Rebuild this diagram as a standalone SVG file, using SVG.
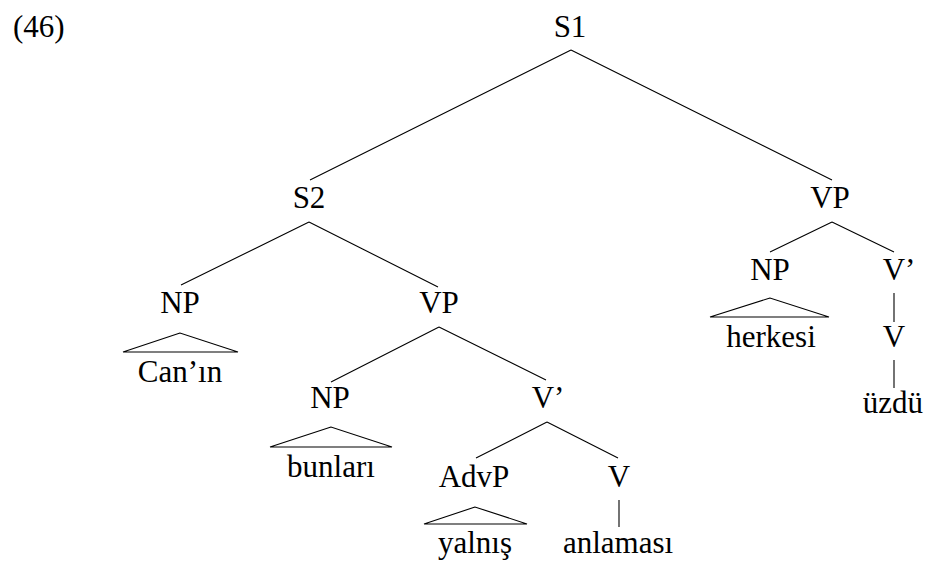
<svg xmlns="http://www.w3.org/2000/svg" width="930" height="563" viewBox="0 0 930 563">
  <style>
    text { font-family: "Liberation Serif", "DejaVu Serif", serif; font-size: 31px; fill: #000; text-anchor: middle; }
    .edge { stroke: #000; stroke-width: 1.1; fill: none; }
    .tri { stroke: #000; stroke-width: 1.1; fill: none; stroke-linejoin: miter; }
  </style>
  <rect width="930" height="563" fill="#fff"/>
  <text x="13" y="37" style="text-anchor:start">(46)</text>

  <!-- branches between nodes -->
  <g id="connectors">
    <path class="edge" d="M571,50 L310,180 M571,50 L832,180"/>
    <path class="edge" d="M309,222 L181,285 M309,222 L438,287"/>
    <path class="edge" d="M439,327 L331,382 M439,327 L546,380"/>
    <path class="edge" d="M547,422 L476,458 M547,422 L618,458"/>
    <path class="edge" d="M619,500 L619,527"/>
    <path class="edge" d="M832,222 L770,252 M832,222 L894,252"/>
    <path class="edge" d="M894,293 L894,322"/>
    <path class="edge" d="M894,360 L894,388"/>
  </g>

  <g id="S1"><text x="570" y="37">S1</text></g>
  <g id="S2"><text x="309" y="208">S2</text></g>
  <g id="VP1"><text x="830" y="208">VP</text></g>
  <g id="NP1">
    <text x="180" y="313">NP</text>
    <path class="tri" d="M180,333 L123,352 L238,352 Z"/>
    <text x="180" y="382">Can’ın</text>
  </g>
  <g id="VP2"><text x="439" y="313">VP</text></g>
  <g id="NP2">
    <text x="330" y="408">NP</text>
    <path class="tri" d="M331,427 L270,447 L392,447 Z"/>
    <text x="331" y="477">bunları</text>
  </g>
  <g id="Vbar1"><text x="548" y="408">V’</text></g>
  <g id="AdvP">
    <text x="474" y="487">AdvP</text>
    <path class="tri" d="M475,507 L424,524 L527,524 Z"/>
    <text x="475" y="553">yalnış</text>
  </g>
  <g id="V1"><text x="619" y="487">V</text></g>
  <g id="anlamasi"><text x="618" y="553">anlaması</text></g>
  <g id="NP3">
    <text x="770" y="280">NP</text>
    <path class="tri" d="M770,298 L710,317 L829,317 Z"/>
    <text x="771" y="347">herkesi</text>
  </g>
  <g id="Vbar2"><text x="899" y="280">V’</text></g>
  <g id="V2"><text x="894" y="347">V</text></g>
  <g id="uzdu"><text x="893" y="413">üzdü</text></g>
</svg>
